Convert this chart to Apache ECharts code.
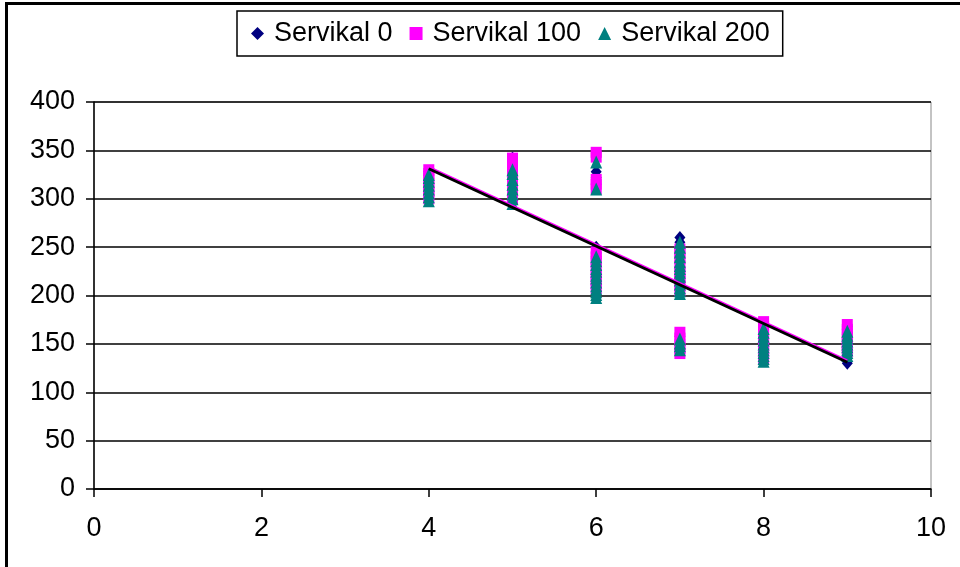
<!DOCTYPE html>
<html>
<head>
<meta charset="utf-8">
<script src="https://cdn.jsdelivr.net/npm/echarts@6/dist/echarts.min.js"></script>
<style>
html,body{margin:0;padding:0;background:#fff;}
#main{width:960px;height:567px;}
</style>
</head>
<body>
<div id="main"></div>
<script>
// Series names
const seriesNames = ['Servikal 0', 'Servikal 100', 'Servikal 200'];
// x tick labels / axis
const xTicks = [0, 2, 4, 6, 8, 10];
const yTicks = [0, 50, 100, 150, 200, 250, 300, 350, 400];

// Servikal 0 values per x
const s0_x4 = [302, 306, 311, 315, 320, 324, 328];
const s0_x5 = [296, 301, 305, 310, 315, 320, 325, 333, 342];
const s0_x6 = [328, 322, 250, 244, 238, 232, 225, 220, 215, 210, 205];
const s0_x7 = [260, 255, 250, 245, 240, 235, 230, 225, 220, 215, 210, 158];
const s0_x8 = [170, 165, 160, 155, 150, 145, 140, 135];
const s0_x9 = [168, 162, 155, 150, 145, 138, 130];

// Servikal 100 values per x
const s100_x4 = [300, 304, 308, 312, 316, 321, 326, 330];
const s100_x5 = [300, 305, 310, 315, 320, 326, 332, 337, 342];
const s100_x6 = [348, 343, 320, 315, 310, 245, 240, 235, 228, 222, 217, 212, 207];
const s100_x7 = [248, 243, 238, 231, 225, 220, 215, 210, 205, 162, 156, 150, 145, 140];
const s100_x8 = [173, 168, 162, 156, 150, 145, 140, 135];
const s100_x9 = [170, 165, 160, 155, 150, 146, 142];

// Servikal 200 values per x
const s200_x4 = [298, 302, 306, 310, 314, 318, 322, 325];
const s200_x5 = [295, 300, 305, 310, 315, 320, 326, 330];
const s200_x6 = [338, 310, 240, 236, 232, 228, 225, 221, 218, 214, 210, 207, 204, 201, 198];
const s200_x7 = [255, 250, 245, 240, 235, 231, 228, 224, 220, 216, 212, 208, 205, 202, 155, 151, 148, 144];
const s200_x8 = [166, 162, 158, 154, 150, 147, 144, 141, 138, 135, 132];
const s200_x9 = [163, 159, 156, 153, 150, 147, 144, 141, 138];

// Linear trend lines (endpoints)
const trendX = [4, 9];
const trendPink = [333, 133];
const trendBlack = [331, 131];

function pts(x, arr) { return arr.map(v => [x, v]); }
function build(groups) {
  const xs = [4, 5, 6, 7, 8, 9];
  let out = [];
  groups.forEach((g, i) => { out = out.concat(pts(xs[i], g)); });
  return out;
}
const data0 = build([s0_x4, s0_x5, s0_x6, s0_x7, s0_x8, s0_x9]);
const data100 = build([s100_x4, s100_x5, s100_x6, s100_x7, s100_x8, s100_x9]);
const data200 = build([s200_x4, s200_x5, s200_x6, s200_x7, s200_x8, s200_x9]);

const chart = echarts.init(document.getElementById('main'), null, {renderer: 'canvas'});
const font = 'Arial, "Liberation Sans", sans-serif';
chart.setOption({
  animation: false,
  backgroundColor: '#fff',
  textStyle: {fontFamily: font},
  graphic: [{
    type: 'rect', left: 4, top: 1, z: 100, silent: true,
    shape: {x: 0, y: 0, width: 970, height: 580},
    style: {fill: 'none', stroke: '#000', lineWidth: 3}
  }],
  legend: {
    data: seriesNames,
    left: 237, top: 11,
    orient: 'horizontal',
    borderColor: '#000', borderWidth: 1.5,
    padding: [9, 13, 9, 14],
    itemGap: 17,
    itemWidth: 13, itemHeight: 13,
    textStyle: {fontSize: 27, color: '#000', fontFamily: font, padding: [0, 0, 0, 5]}
  },
  grid: {left: 94, right: 29, top: 102, bottom: 78, show: true, borderColor: '#888', borderWidth: 1},
  xAxis: {
    type: 'value', min: 0, max: 10, interval: 2,
    axisLine: {show: true, onZero: false, lineStyle: {color: '#000', width: 1.5}},
    axisTick: {show: true, length: 8, lineStyle: {color: '#000', width: 1.5}},
    axisLabel: {fontSize: 27, color: '#000', margin: 26, fontFamily: font},
    splitLine: {show: false}
  },
  yAxis: {
    type: 'value', min: 0, max: 400, interval: 50,
    axisLine: {show: true, lineStyle: {color: '#000', width: 1.5}},
    axisTick: {show: true, length: 8, lineStyle: {color: '#000', width: 1.5}},
    axisLabel: {fontSize: 27, color: '#000', margin: 19, fontFamily: font},
    splitLine: {show: true, lineStyle: {color: '#000', width: 1.5}}
  },
  series: [
    {name: seriesNames[0], type: 'scatter', symbol: 'diamond', symbolSize: [11, 13], itemStyle: {color: '#000080', opacity: 1}, data: data0, z: 2},
    {name: seriesNames[1], type: 'scatter', symbol: 'rect', symbolSize: 11, itemStyle: {color: '#FF00FF', opacity: 1}, data: data100, z: 3},
    {name: seriesNames[2], type: 'scatter', symbol: 'triangle', symbolSize: [12, 13], itemStyle: {color: '#008080', opacity: 1}, data: data200, z: 4},
    {name: 'trendPink', type: 'line', symbol: 'none', silent: true, data: trendX.map((x, i) => [x, trendPink[i]]), lineStyle: {color: '#FF00FF', width: 2}, z: 5},
    {name: 'trendBlack', type: 'line', symbol: 'none', silent: true, data: trendX.map((x, i) => [x, trendBlack[i]]), lineStyle: {color: '#000', width: 3}, z: 6}
  ]
});
</script>
</body>
</html>
